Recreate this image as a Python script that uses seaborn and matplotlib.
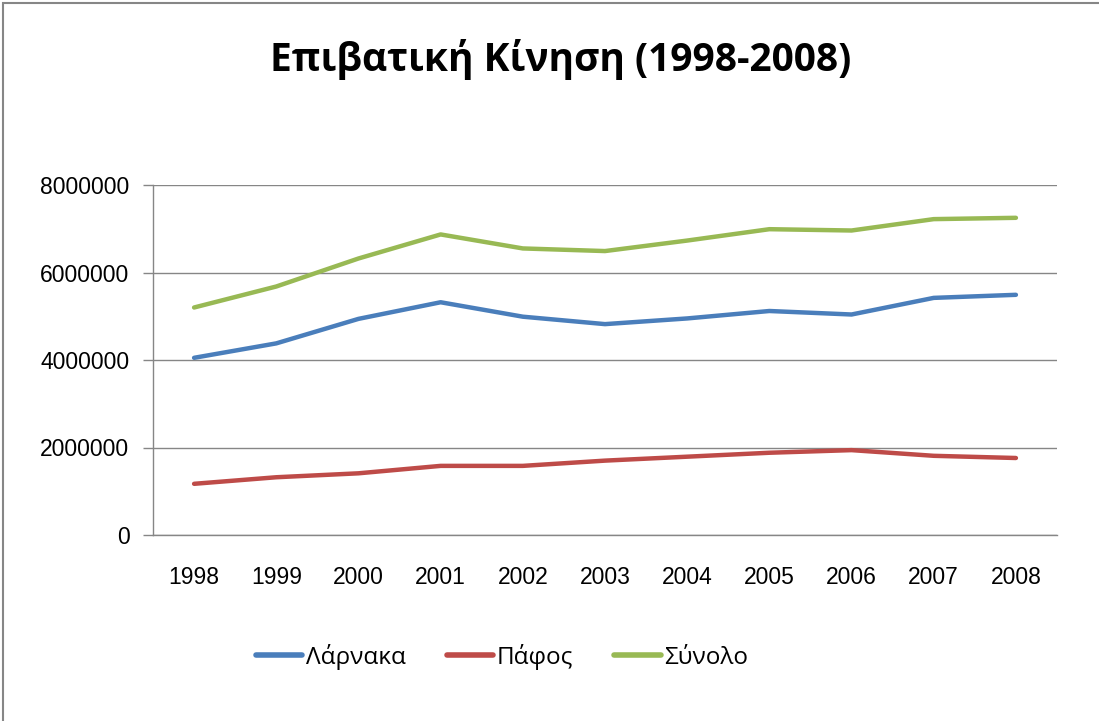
import pandas as pd
import seaborn as sns
import matplotlib.pyplot as plt
from matplotlib.patches import Rectangle
from matplotlib.ticker import FixedLocator

years = ["1998", "1999", "2000", "2001", "2002", "2003", "2004", "2005", "2006", "2007", "2008"]
larnaka = [4050000, 4380000, 4940000, 5320000, 4990000, 4820000, 4950000, 5120000, 5040000, 5420000, 5490000]
pafos = [1170000, 1320000, 1410000, 1580000, 1580000, 1700000, 1790000, 1880000, 1940000, 1810000, 1760000]
synolo = [5200000, 5680000, 6320000, 6870000, 6550000, 6490000, 6730000, 6990000, 6960000, 7220000, 7250000]
series_names = ["Λάρνακα", "Πάφος", "Σύνολο"]
colors = ["#4A7EBB", "#BE4B48", "#98B954"]

rows = []
for name, vals in zip(series_names, [larnaka, pafos, synolo]):
    for i, v in enumerate(vals):
        rows.append({"idx": i, "value": v, "series": name})
df = pd.DataFrame(rows)

sns.set_style("white")
plt.rcParams["font.family"] = ["Liberation Sans", "DejaVu Sans"]
plt.rcParams["text.color"] = "black"

fig = plt.figure(figsize=(10.99, 7.21), dpi=100)
ax = fig.add_axes([153 / 1099, 1 - 535 / 721, (1057 - 153) / 1099, (535 - 185) / 721])

sns.lineplot(data=df, x="idx", y="value", hue="series", palette=colors,
             linewidth=3.2, ax=ax, legend=False)

ax.set_xlim(-0.5, 10.5)
ax.set_ylim(0, 8000000)
ax.set_yticks([0, 2000000, 4000000, 6000000, 8000000])
ax.set_yticklabels(["0", "2000000", "4000000", "6000000", "8000000"])
ax.set_xticks(range(len(years)))
ax.set_xticklabels(years)
ax.xaxis.set_minor_locator(FixedLocator([i - 0.5 for i in range(len(years) + 1)]))
ax.tick_params(axis="x", which="major", length=0, pad=22, labelsize=16.5, colors="black")
ax.tick_params(axis="x", which="minor", length=9, width=1, color="#868686", direction="out")
ax.tick_params(axis="y", length=7, width=1, color="#868686", pad=10, labelsize=16.5,
               labelcolor="black", left=True)
ax.grid(axis="y", color="#868686", linewidth=1)
ax.set_axisbelow(True)
for s in ["top", "right"]:
    ax.spines[s].set_visible(False)
for s in ["left", "bottom"]:
    ax.spines[s].set_color("#868686")
    ax.spines[s].set_linewidth(1)
ax.set_xlabel("")
ax.set_ylabel("")

fig.text(0.51, 1 - 60 / 721, "Επιβατική Κίνηση (1998-2008)", ha="center", va="center",
         fontsize=28, fontweight="bold", color="black", family=["Open Sans", "DejaVu Sans"])

handles = [plt.Line2D([], [], color=c, linewidth=4, solid_capstyle="round") for c in colors]
fig.legend(handles, series_names, loc="center", bbox_to_anchor=(502 / 1099, 1 - 657 / 721),
           ncol=3, frameon=False, handlelength=1.9, handletextpad=0.15, labelcolor="black",
           columnspacing=1.7, prop={"family": ["Open Sans", "DejaVu Sans"], "size": 17.5})

fig.patches.append(Rectangle((3 / 1099, -0.1), 1.2, (1 - 3 / 721) + 0.1, transform=fig.transFigure,
                             fill=False, edgecolor="#868686", linewidth=1.5))

fig.savefig("out.png", dpi=100)
plt.close(fig)
